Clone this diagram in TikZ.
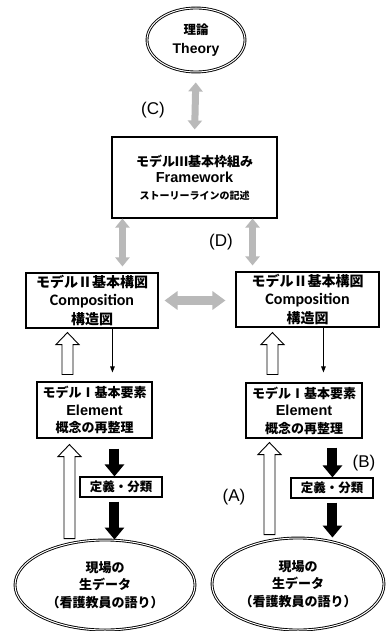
\documentclass[tikz,border=0pt]{standalone}
\usepackage{fontspec}
\setmainfont{Noto Sans CJK JP}
\newfontfamily\lat{Liberation Sans}
\newfontfamily\carl{Carlito}
\usetikzlibrary{arrows.meta,calc,shapes.geometric}
\tikzset{
 box/.style={draw, line width=1.1pt, fill=white, inner sep=0pt, align=center, font=\bfseries},
 oval/.style={ellipse, draw, line width=0.9pt, double=white, double distance=1pt, inner sep=0pt, align=center},
 grayarr/.style={draw=gray!55, line width=7pt, {Triangle[length=9pt,width=14pt]}-{Triangle[length=9pt,width=14pt]}},
 hollow/.style={draw, line width=0.9pt, fill=white, to path={let \p1=(\tikztostart), \p2=(\tikztotarget) in (\x1-5.5pt,\y1) -- (\x1-5.5pt,\y2-12pt) -- (\x1-11.5pt,\y2-12pt) -- (\x2,\y2) -- (\x1+11.5pt,\y2-12pt) -- (\x1+5.5pt,\y2-12pt) -- (\x1+5.5pt,\y1) -- cycle}},
 thinarr/.style={line width=0.9pt, -{Triangle[length=6pt,width=4.5pt]}},
 blackarr/.style={line width=10pt, -{Triangle[length=12pt,width=19pt]}},
 lbl/.style={font=\lat\fontsize{17}{17}\selectfont, inner sep=0pt},
}
\begin{document}
\begin{tikzpicture}[x=1pt,y=-1pt]
\path[fill=white] (0,0) rectangle (388,631);
\useasboundingbox (0,0) rectangle (388,631);

\node[oval, minimum width=98pt, minimum height=64pt, font=\bfseries\fontsize{12.5}{19}\selectfont] (theory) at (196,40) {理論\\{\lat\fontsize{14}{19}\selectfont Theory}};

\node[box, minimum width=165pt, minimum height=81pt, font=\bfseries\fontsize{13}{16.5}\selectfont] (fw) at (194.5,177.5) {モデルⅢ基本枠組み\\{\lat\fontsize{14.5}{16.5}\selectfont Framework}\\{\fontsize{10}{12}\selectfont ストーリーラインの記述}};

\node[box, minimum width=132pt, minimum height=55pt, font=\bfseries\fontsize{14}{18.5}\selectfont] (compL) at (92,300.5) {モデルⅡ基本構図\\{\carl\fontsize{16}{18.5}\selectfont Composition}\\構造図};
\node[box, minimum width=143pt, minimum height=55pt, font=\bfseries\fontsize{14}{18.5}\selectfont] (compR) at (307.5,299.5) {モデルⅡ基本構図\\{\carl\fontsize{16}{18.5}\selectfont Composition}\\構造図};

\node[box, minimum width=115pt, minimum height=56pt, font=\bfseries\fontsize{13}{17.5}\selectfont] (elL) at (94.5,410) {モデルⅠ基本要素\\{\lat\fontsize{14.5}{17.5}\selectfont Element}\\概念の再整理};
\node[box, minimum width=116pt, minimum height=55pt, font=\bfseries\fontsize{13}{17.5}\selectfont] (elR) at (304,410.5) {モデルⅠ基本要素\\{\lat\fontsize{14.5}{17.5}\selectfont Element}\\概念の再整理};

\node[box, minimum width=82pt, minimum height=20pt, font=\bfseries\fontsize{12.5}{14}\selectfont] (defL) at (121,487) {定義・分類};
\node[box, minimum width=82pt, minimum height=20pt, font=\bfseries\fontsize{12.5}{14}\selectfont] (defR) at (332,488) {定義・分類};

\node[oval, minimum width=180pt, minimum height=90pt, font=\bfseries\fontsize{13}{17.5}\selectfont] (dataL) at (105,585) {現場の\\生データ\\（看護教員の語り）};
\node[oval, minimum width=172pt, minimum height=92pt, font=\bfseries\fontsize{13}{17.5}\selectfont] (dataR) at (298,584) {現場の\\生データ\\（看護教員の語り）};

% gray double arrows
\draw[grayarr, shorten <=10pt, shorten >=7pt] (theory.south) -- (fw.north);
\coordinate (gL) at ($(fw.south west)+(11,0)$);
\draw[grayarr, shorten >=6pt] (gL) -- (gL |- compL.north);
\coordinate (gR) at ($(fw.south east)+(-25,0)$);
\draw[grayarr, shorten >=6pt] (gR) -- (gR |- compR.north);
\draw[grayarr, line width=9pt, {Triangle[length=13pt,width=18pt]}-{Triangle[length=13pt,width=18pt]}, shorten <=6pt, shorten >=10pt] (compL.east) -- (compL.east -| compR.west);

% hollow arrows
\coordinate (hL1) at ($(elL.north west)+(31,0)$);
\draw[hollow] ($(hL1)+(0,-7)$) to ($(hL1 |- compL.south)+(0,4)$);
\coordinate (hL2) at ($(elL.south west)+(33,0)$);
\draw[hollow] ($(hL2 |- dataL.north)+(0,-1)$) to ($(hL2)+(0,6)$);
\coordinate (hR1) at ($(elR.north west)+(27,0)$);
\draw[hollow] ($(hR1)+(0,-8)$) to ($(hR1 |- compR.south)+(0,5)$);
\coordinate (hR2) at ($(elR.south west)+(24,0)$);
\draw[hollow] ($(hR2 |- dataR.north)+(0,-3)$) to ($(hR2)+(0,4)$);

% thin arrows
\coordinate (tL) at ($(compL.south west)+(87,0)$);
\draw[thinarr, shorten >=9pt] (tL) -- (tL |- elL.north);
\coordinate (tR) at ($(compR.south west)+(88,0)$);
\draw[thinarr, shorten >=10pt] (tR) -- (tR |- elR.north);

% black arrows
\coordinate (bL) at ($(elL.south west)+(78,0)$);
\draw[blackarr, shorten <=10pt] (bL) -- (bL |- defL.north);
\draw[blackarr, shorten <=4pt] (bL |- defL.south) -- (bL |- dataL.north);
\coordinate (bR) at ($(elR.south west)+(87,0)$);
\draw[blackarr, shorten <=9pt] (bR) -- (bR |- defR.north);
\draw[blackarr, shorten <=4pt] (bR |- defR.south) -- (bR |- dataR.north);

% labels
\node[lbl] (lC) at (153,110) {(C)};
\node[lbl] (lD) at (221,242) {(D)};
\node[lbl] (lB) at (364,463) {(B)};
\node[lbl] (lA) at (234,497) {(A)};
\end{tikzpicture}
\end{document}
